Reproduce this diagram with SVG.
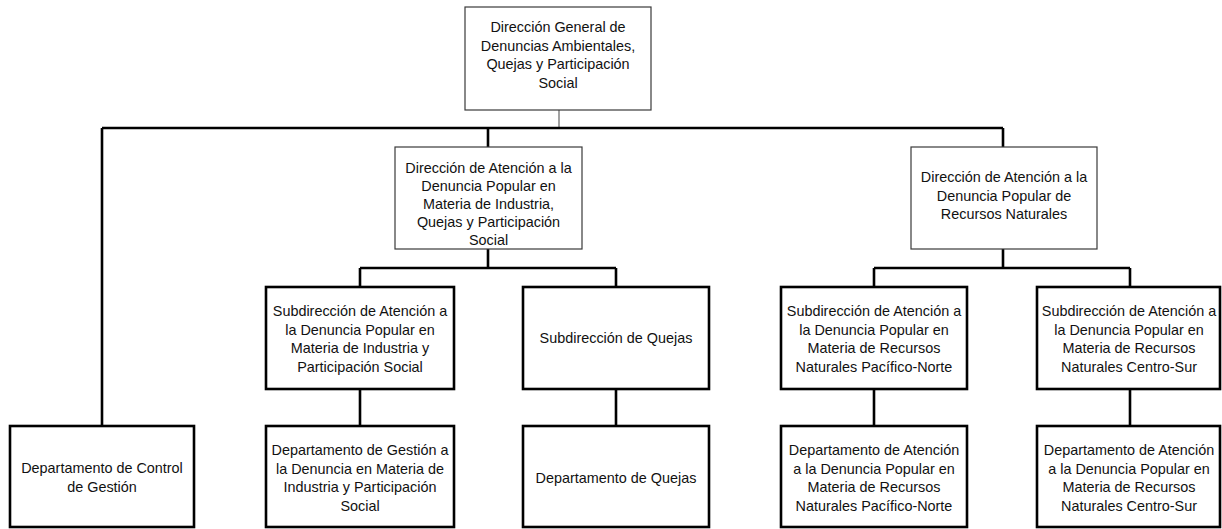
<svg xmlns="http://www.w3.org/2000/svg" width="1222" height="529" viewBox="0 0 1222 529">
<style>
  .thin{fill:#fff;stroke:#3a3a3a;stroke-width:1.2}
  .thick{fill:#fff;stroke:#000;stroke-width:2.6}
  .con{fill:none;stroke:#000;stroke-width:2.6}
  .con-thin{fill:none;stroke:#7a7a7a;stroke-width:1.4}
  text{font-family:"Liberation Sans",Arial,sans-serif;font-size:14.4px;fill:#111;text-anchor:middle}
</style>
<rect width="1222" height="529" fill="#fff"/>
<g id="connectors">
  <path class="con-thin" d="M559,110 V128"/>
  <path class="con" d="M102,128 H1003"/>
  <path class="con" d="M102,128 V426"/>
  <path class="con" d="M488,128 V147"/>
  <path class="con" d="M1003,128 V147"/>
  <path class="con" d="M488,249 V268 M360,268 H616 M360,268 V287 M616,268 V287"/>
  <path class="con" d="M1003,249 V268 M874,268 H1130 M874,268 V287 M1130,268 V287"/>
  <path class="con" d="M360,389 V426 M616,389 V426 M874,389 V426 M1130,389 V426"/>
</g>
<g id="dg">
  <rect class="thin" x="465" y="7" width="186" height="103"/>
  <text x="558" y="32">Dirección General de</text>
  <text x="558" y="50.5">Denuncias Ambientales,</text>
  <text x="558" y="69">Quejas y Participación</text>
  <text x="558" y="87.5">Social</text>
</g>
<g id="dir-industria">
  <rect class="thin" x="395" y="147" width="187" height="102"/>
  <text x="488.5" y="172.5">Dirección de Atención a la</text>
  <text x="488.5" y="190.7">Denuncia Popular en</text>
  <text x="488.5" y="208.9">Materia de Industria,</text>
  <text x="488.5" y="227.1">Quejas y Participación</text>
  <text x="488.5" y="245.3">Social</text>
</g>
<g id="dir-recursos">
  <rect class="thin" x="911" y="147" width="186" height="102"/>
  <text x="1004" y="182">Dirección de Atención a la</text>
  <text x="1004" y="200.5">Denuncia Popular de</text>
  <text x="1004" y="219">Recursos Naturales</text>
</g>
<g id="sub-industria">
  <rect class="thick" x="266" y="287" width="188" height="102"/>
  <text x="360" y="316">Subdirección de Atención a</text>
  <text x="360" y="334.5">la Denuncia Popular en</text>
  <text x="360" y="353">Materia de Industria y</text>
  <text x="360" y="371.5">Participación Social</text>
</g>
<g id="sub-quejas">
  <rect class="thick" x="523" y="287" width="186" height="102"/>
  <text x="616" y="343">Subdirección de Quejas</text>
</g>
<g id="sub-pn">
  <rect class="thick" x="781" y="287" width="186" height="102"/>
  <text x="874" y="316">Subdirección de Atención a</text>
  <text x="874" y="334.5">la Denuncia Popular en</text>
  <text x="874" y="353">Materia de Recursos</text>
  <text x="874" y="371.5">Naturales Pacífico-Norte</text>
</g>
<g id="sub-cs">
  <rect class="thick" x="1037" y="287" width="183" height="102"/>
  <text x="1129" y="316">Subdirección de Atención a</text>
  <text x="1129" y="334.5">la Denuncia Popular en</text>
  <text x="1129" y="353">Materia de Recursos</text>
  <text x="1129" y="371.5">Naturales Centro-Sur</text>
</g>
<g id="dep-control">
  <rect class="thick" x="10" y="426" width="184" height="101"/>
  <text x="102" y="473">Departamento de Control</text>
  <text x="102" y="491.5">de Gestión</text>
</g>
<g id="dep-industria">
  <rect class="thick" x="266" y="426" width="188" height="101"/>
  <text x="360" y="455">Departamento de Gestión a</text>
  <text x="360" y="473.5">la Denuncia en Materia de</text>
  <text x="360" y="492">Industria y Participación</text>
  <text x="360" y="510.5">Social</text>
</g>
<g id="dep-quejas">
  <rect class="thick" x="523" y="426" width="186" height="101"/>
  <text x="616" y="483">Departamento de Quejas</text>
</g>
<g id="dep-pn">
  <rect class="thick" x="781" y="426" width="186" height="101"/>
  <text x="874" y="455">Departamento de Atención</text>
  <text x="874" y="473.5">a la Denuncia Popular en</text>
  <text x="874" y="492">Materia de Recursos</text>
  <text x="874" y="510.5">Naturales Pacífico-Norte</text>
</g>
<g id="dep-cs">
  <rect class="thick" x="1037" y="426" width="183" height="101"/>
  <text x="1129" y="455">Departamento de Atención</text>
  <text x="1129" y="473.5">a la Denuncia Popular en</text>
  <text x="1129" y="492">Materia de Recursos</text>
  <text x="1129" y="510.5">Naturales Centro-Sur</text>
</g>
</svg>
